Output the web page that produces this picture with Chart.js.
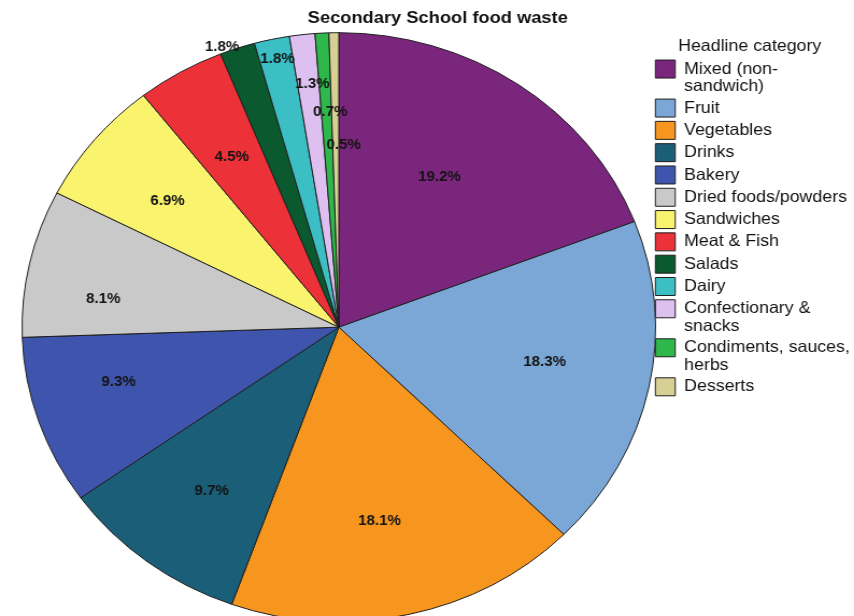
<!DOCTYPE html>
<html><head><meta charset="utf-8">
<script src="https://cdn.jsdelivr.net/npm/chart.js@4/dist/chart.umd.min.js"></script>
<style>
html,body{margin:0;padding:0;background:#fff;}
#wrap{width:854px;height:616px;overflow:hidden;position:relative;background:#fff;}
#c{position:absolute;left:0;top:0;width:794px;height:640px;transform:scale(1.0756,1);transform-origin:0 0;}
</style></head><body>
<div id="wrap"><canvas id="c" width="794" height="640"></canvas></div>
<script>
// ---- data ----
const chartTitle = 'Secondary School food waste';
const legendTitle = 'Headline category';
const categories = [
  ['Mixed (non-', 'sandwich)'], 'Fruit', 'Vegetables', 'Drinks', 'Bakery',
  'Dried foods/powders', 'Sandwiches', 'Meat & Fish', 'Salads', 'Dairy',
  ['Confectionary &', 'snacks'], ['Condiments, sauces,', 'herbs'], 'Desserts'
];
const shares = [19.2, 18.3, 18.1, 9.7, 9.3, 8.1, 6.9, 4.5, 1.8, 1.8, 1.3, 0.7, 0.5];
const shareLabels = ['19.2%', '18.3%', '18.1%', '9.7%', '9.3%', '8.1%', '6.9%', '4.5%', '1.8%', '1.8%', '1.3%', '0.7%', '0.5%'];

// ---- styles / label placement ----
const sliceColors = ['#7b267d', '#7aa7d5', '#f7961e', '#1b5e78', '#3f55ad', '#c9c9c9',
  '#faf36e', '#ec3139', '#0b5a2f', '#3cbfc4', '#ddbff0', '#2eb84b', '#d8cf95'];
const labelRadius = [0.60, 0.66, 0.67, 0.685, 0.72, 0.75, 0.69, 0.67, 1.02, 0.93, 0.83, 0.73, 0.62];
const labelAngleShift = [-2.5, -1.6, 1.7, -1.3, 3.7, -5.2, -1.1, -0.3, -2.5, 0.2, 0.9, 0.9, 2.3];

Chart.defaults.font.family = "'Liberation Sans', Arial, sans-serif";

const sliceLabels = {
  id: 'sliceLabels',
  afterDatasetsDraw(chart) {
    const ctx = chart.ctx;
    const meta = chart.getDatasetMeta(0);
    ctx.save();
    ctx.font = "bold 14px 'Liberation Sans', Arial, sans-serif";
    ctx.fillStyle = '#141414';
    ctx.textAlign = 'center';
    ctx.textBaseline = 'middle';
    meta.data.forEach((arc, i) => {
      const p = arc.getProps(['x', 'y', 'startAngle', 'endAngle', 'outerRadius'], true);
      const mid = (p.startAngle + p.endAngle) / 2 + labelAngleShift[i] * Math.PI / 180;
      const r = p.outerRadius * labelRadius[i];
      ctx.fillText(shareLabels[i], p.x + Math.cos(mid) * r, p.y + Math.sin(mid) * r);
    });
    ctx.restore();
  }
};

new Chart(document.getElementById('c'), {
  type: 'pie',
  data: {
    labels: categories,
    datasets: [{
      data: shares,
      backgroundColor: sliceColors,
      borderColor: '#1e1e1e',
      borderWidth: 1
    }]
  },
  options: {
    responsive: false,
    animation: false,
    events: [],
    radius: 294.5,
    layout: { padding: { left: 25, right: 5, top: 0, bottom: 18 } },
    plugins: {
      title: {
        display: true, text: chartTitle, color: '#111',
        font: { size: 17, weight: 'bold', lineHeight: 1.2 },
        padding: { top: 8, bottom: 4 }
      },
      legend: {
        position: 'right', align: 'start', fullSize: false, maxWidth: 184,
        title: {
          display: true, text: legendTitle, color: '#111',
          font: { size: 16.5, lineHeight: 1.052 }, padding: { top: 6, bottom: 0 }
        },
        labels: {
          boxWidth: 18.5, boxHeight: 18, padding: 4.3, color: '#111',
          font: { size: 16.5, lineHeight: 1.052 }
        }
      },
      tooltip: { enabled: false }
    }
  },
  plugins: [sliceLabels]
});
</script>
</body></html>
